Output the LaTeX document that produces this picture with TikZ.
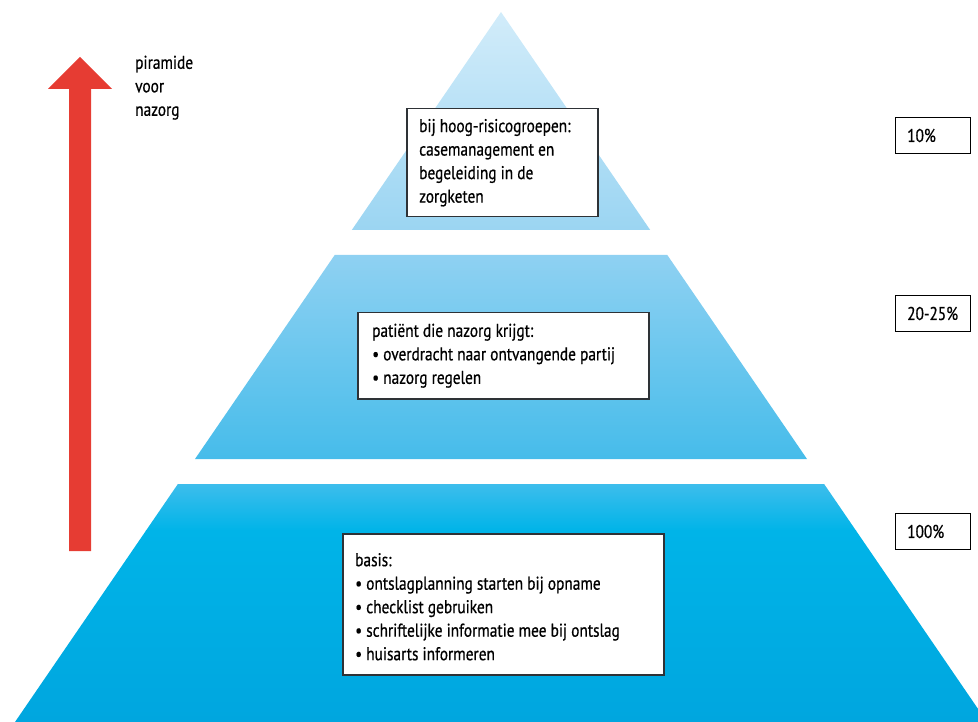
\documentclass[tikz,border=0pt]{standalone}
\usepackage{fontspec}
\setmainfont{PT Sans}[FakeStretch=0.83,FakeBold=0.6]
\definecolor{arrowred}{HTML}{E63C33}
\definecolor{tAtop}{HTML}{D2ECFA}
\definecolor{tAbot}{HTML}{9BD5F2}
\definecolor{tBtop}{HTML}{8FD1F2}
\definecolor{tBbot}{HTML}{46BCEA}
\definecolor{tCtop}{HTML}{3DBDEC}
\definecolor{tCmid}{HTML}{00B4E8}
\definecolor{tCbot}{HTML}{00A6DF}
\definecolor{boxline}{HTML}{2E3236}
\tikzset{
  lbl/.style={font=\fontsize{18.5}{23.5}\selectfont, inner sep=0pt, align=left, anchor=west, text=black},
  infobox/.style={draw=boxline, line width=1.5pt, fill=white, rectangle, inner sep=0pt, anchor=north west},
  pctbox/.style={draw=black, line width=1pt, fill=white, rectangle, inner sep=0pt, anchor=north west, minimum width=75pt, minimum height=36pt},
}
\begin{document}
\begin{tikzpicture}[x=1pt,y=-1pt]
\useasboundingbox (0,0) rectangle (978,722);
\begin{scope}
  \clip (0,0) rectangle (978,722);
  % top tier
  \shade[top color=tAtop, bottom color=tAbot] (501,12) -- (650.2,230) -- (351.8,230) -- cycle;
  % middle tier
  \shade[top color=tBtop, bottom color=tBbot] (334.7,255) -- (667.3,255) -- (807,459) -- (195,459) -- cycle;
  % bottom tier
  \begin{scope}
    \clip (177.9,484) -- (824.1,484) -- (987,722) -- (15,722) -- cycle;
    \shade[top color=tCtop, bottom color=tCmid] (0,484) rectangle (978,530.5);
    \shade[top color=tCmid, bottom color=tCbot] (0,530) rectangle (978,722);
  \end{scope}
\end{scope}

% red arrow
\fill[arrowred] (69,551) -- (91,551) -- (91,89) -- (112,89) -- (80,57) -- (48,89) -- (69,89) -- cycle;
\node[lbl, anchor=north west] (title) at (135,55.5) {piramide\\voor\\nazorg};

% info boxes
\node[infobox, minimum width=191pt, minimum height=108pt] (b1) at (406,108) {};
\node[lbl] (t1) at ([xshift=13pt]b1.west) {bij hoog-risicogroepen:\\casemanagement en\\begeleiding in de\\zorgketen};

\node[infobox, minimum width=291pt, minimum height=86pt] (b2) at (357,312) {};
\node[lbl] (t2) at ([xshift=15pt]b2.west) {patiënt die nazorg krijgt:\\• overdracht naar ontvangende partij\\• nazorg regelen};

\node[infobox, minimum width=321pt, minimum height=141pt] (b3) at (342,533) {};
\node[lbl] (t3) at ([xshift=13pt,yshift=-2.5pt]b3.west) {basis:\\• ontslagplanning starten bij opname\\• checklist gebruiken\\• schriftelijke informatie mee bij ontslag\\• huisarts informeren};

% percentage boxes
\node[pctbox] (p1) at (895,117) {};
\node[lbl] (q1) at ([xshift=12pt]p1.west) {10\%};
\node[pctbox] (p2) at (895,295) {};
\node[lbl] (q2) at ([xshift=12pt]p2.west) {20-25\%};
\node[pctbox] (p3) at (895,513) {};
\node[lbl] (q3) at ([xshift=12pt]p3.west) {100\%};
\end{tikzpicture}
\end{document}
